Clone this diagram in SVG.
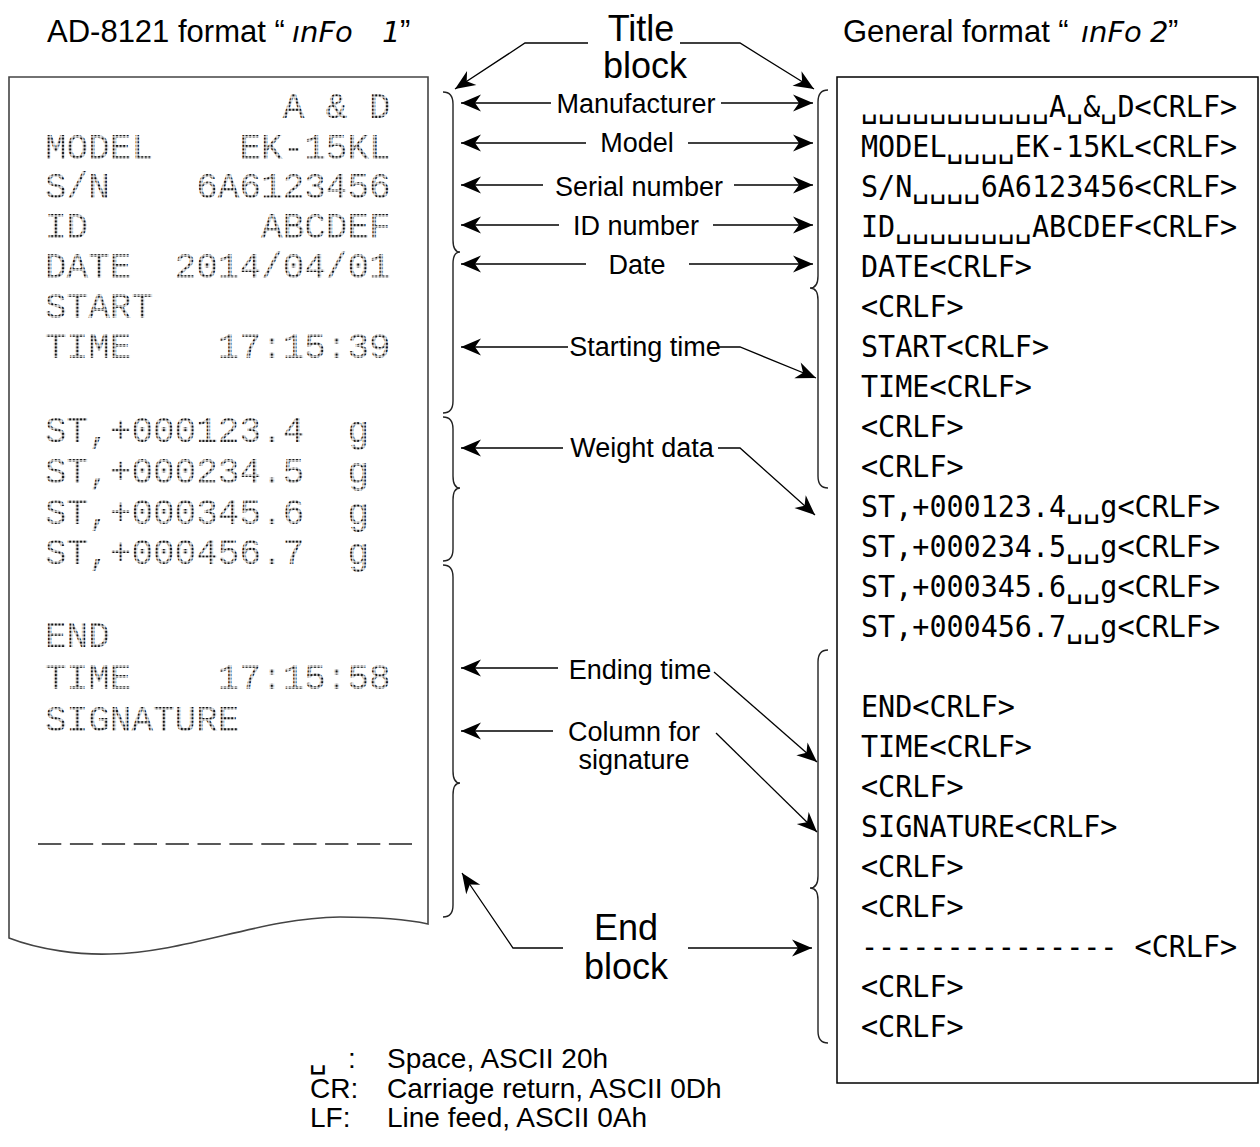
<svg xmlns="http://www.w3.org/2000/svg" width="1260" height="1147" viewBox="0 0 1260 1147">
<style>
.lbl{font-family:"Liberation Sans",Arial,sans-serif;font-size:27px;fill:#000}
.lg{font-family:"Liberation Sans",Arial,sans-serif;font-size:28px;fill:#000}
.hd{font-family:"Liberation Sans",Arial,sans-serif;font-size:31px;fill:#000}
.mid{text-anchor:middle}
.big{font-family:"Liberation Sans",Arial,sans-serif;font-size:36px;fill:#000;text-anchor:middle}
.seg{font-family:"DejaVu Sans",sans-serif;font-style:italic;font-size:29px}
.dm{font-family:"Liberation Mono",monospace;font-size:36px;fill:url(#dots);white-space:pre}
.rb{font-family:"DejaVu Sans Mono",monospace;font-size:30px;fill:#000;white-space:pre}
.ln{fill:none;stroke:#000;stroke-width:1.3}
.arr{marker-end:url(#ah)}
.br{fill:none;stroke:#222;stroke-width:1.4}
</style>
<defs>
<pattern id="dots" width="3.6" height="3.6" patternUnits="userSpaceOnUse"><rect x="0.6" y="0.6" width="2.4" height="2.4" fill="#111"/></pattern>
<marker id="ah" viewBox="-21 -10 23 20" markerWidth="23" markerHeight="20" refX="0" refY="0" orient="auto" markerUnits="userSpaceOnUse"><path d="M0,0 L-20,-8.5 L-14,0 L-20,8.5 Z" fill="#000"/></marker>
</defs>
<rect width="1260" height="1147" fill="#fff"/>

<g id="heading-left">
<text class="hd" x="47" y="42">AD-8121 format “<tspan class="seg" x="292">ınFo</tspan><tspan class="seg" x="382">1</tspan><tspan x="400">”</tspan></text>
</g>
<g id="heading-right">
<text class="hd" x="843" y="42">General format “<tspan class="seg" x="1081">ınFo</tspan><tspan class="seg" x="1150">2</tspan><tspan x="1168">”</tspan></text>
</g>

<g id="printout">
<path d="M9,77 V938 C40,950 80,955 110,954 C190,952 260,918 340,917 C380,917 410,920 428,924 V77 Z" fill="#fff" stroke="#444" stroke-width="1.6"/>
<text class="dm" x="45" y="118">           A &amp; D</text>
<text class="dm" x="45" y="159">MODEL    EK-15KL</text>
<text class="dm" x="45" y="198">S/N    6A6123456</text>
<text class="dm" x="45" y="238">ID        ABCDEF</text>
<text class="dm" x="45" y="278">DATE  2014/04/01</text>
<text class="dm" x="45" y="318">START</text>
<text class="dm" x="45" y="358">TIME    17:15:39</text>
<text class="dm" x="45" y="442">ST,+000123.4  g</text>
<text class="dm" x="45" y="483">ST,+000234.5  g</text>
<text class="dm" x="45" y="524">ST,+000345.6  g</text>
<text class="dm" x="45" y="564">ST,+000456.7  g</text>
<text class="dm" x="45" y="647">END</text>
<text class="dm" x="45" y="689">TIME    17:15:58</text>
<text class="dm" x="45" y="731">SIGNATURE</text>
<line x1="38" y1="844" x2="412" y2="844" stroke="#222" stroke-width="1.5" stroke-dasharray="23.3 8.6"/>
</g>

<g id="general-box">
<rect x="837" y="77" width="421" height="1006" fill="none" stroke="#000" stroke-width="1.5"/>
<g transform="translate(861,0) scale(0.947,1)">
<text class="rb" x="0" y="117">␣␣␣␣␣␣␣␣␣␣␣A␣&amp;␣D&lt;CRLF&gt;</text>
<text class="rb" x="0" y="157">MODEL␣␣␣␣EK-15KL&lt;CRLF&gt;</text>
<text class="rb" x="0" y="197">S/N␣␣␣␣6A6123456&lt;CRLF&gt;</text>
<text class="rb" x="0" y="237">ID␣␣␣␣␣␣␣␣ABCDEF&lt;CRLF&gt;</text>
<text class="rb" x="0" y="277">DATE&lt;CRLF&gt;</text>
<text class="rb" x="0" y="317">&lt;CRLF&gt;</text>
<text class="rb" x="0" y="357">START&lt;CRLF&gt;</text>
<text class="rb" x="0" y="397">TIME&lt;CRLF&gt;</text>
<text class="rb" x="0" y="437">&lt;CRLF&gt;</text>
<text class="rb" x="0" y="477">&lt;CRLF&gt;</text>
<text class="rb" x="0" y="517">ST,+000123.4␣␣g&lt;CRLF&gt;</text>
<text class="rb" x="0" y="557">ST,+000234.5␣␣g&lt;CRLF&gt;</text>
<text class="rb" x="0" y="597">ST,+000345.6␣␣g&lt;CRLF&gt;</text>
<text class="rb" x="0" y="637">ST,+000456.7␣␣g&lt;CRLF&gt;</text>
<text class="rb" x="0" y="717">END&lt;CRLF&gt;</text>
<text class="rb" x="0" y="757">TIME&lt;CRLF&gt;</text>
<text class="rb" x="0" y="797">&lt;CRLF&gt;</text>
<text class="rb" x="0" y="837">SIGNATURE&lt;CRLF&gt;</text>
<text class="rb" x="0" y="877">&lt;CRLF&gt;</text>
<text class="rb" x="0" y="917">&lt;CRLF&gt;</text>
<text class="rb" x="0" y="957">--------------- &lt;CRLF&gt;</text>
<text class="rb" x="0" y="997">&lt;CRLF&gt;</text>
<text class="rb" x="0" y="1037">&lt;CRLF&gt;</text>
</g>
</g>

<g id="braces">
<path class="br" d="M443,92 C450,92 453,96 453,104 V240 C453,248 456,252 460,252 C456,252 453,256 453,264 V401 C453,409 450,413 443,413"/>
<path class="br" d="M443,417 C450,417 453,421 453,429 V476 C453,484 456,488 460,488 C456,488 453,492 453,500 V549 C453,557 450,561 443,561"/>
<path class="br" d="M443,565 C450,565 453,569 453,577 V771 C453,779 456,783 460,783 C456,783 453,787 453,795 V905 C453,913 450,917 443,917"/>
<path class="br" d="M828,90 C821,90 818,94 818,102 V276 C818,284 815,288 810,288 C815,288 818,292 818,300 V476 C818,484 821,488 828,488"/>
<path class="br" d="M828,650 C821,650 818,654 818,662 V876 C818,884 815,888 810,888 C815,888 818,892 818,900 V1031 C818,1039 821,1043 828,1043"/>
</g>

<g id="connectors">
<polyline class="ln arr" points="588,43 525,43 455,89"/>
<polyline class="ln arr" points="680,43 740,43 814,89"/>
<line class="ln arr" x1="551" y1="103" x2="461" y2="103"/>
<line class="ln arr" x1="721" y1="103" x2="813" y2="103"/>
<line class="ln arr" x1="586" y1="143" x2="461" y2="143"/>
<line class="ln arr" x1="688" y1="143" x2="813" y2="143"/>
<line class="ln arr" x1="543" y1="185" x2="461" y2="185"/>
<line class="ln arr" x1="734" y1="185" x2="813" y2="185"/>
<line class="ln arr" x1="559" y1="225" x2="461" y2="225"/>
<line class="ln arr" x1="713" y1="225" x2="813" y2="225"/>
<line class="ln arr" x1="586" y1="264" x2="461" y2="264"/>
<line class="ln arr" x1="689" y1="264" x2="813" y2="264"/>
<line class="ln arr" x1="568" y1="347" x2="461" y2="347"/>
<polyline class="ln arr" points="719,347 740,347 816,378"/>
<line class="ln arr" x1="563" y1="448" x2="461" y2="448"/>
<polyline class="ln arr" points="718,448 740,448 815,515"/>
<line class="ln arr" x1="558" y1="668" x2="461" y2="668"/>
<line class="ln arr" x1="714" y1="672" x2="817" y2="762"/>
<line class="ln arr" x1="553" y1="731" x2="461" y2="731"/>
<line class="ln arr" x1="716" y1="733" x2="817" y2="832"/>
<polyline class="ln arr" points="563,948 513,948 462,873"/>
<line class="ln arr" x1="688" y1="948" x2="812" y2="948"/>
</g>

<g id="labels">
<text class="big" x="641" y="41">Title</text>
<text class="big" x="645" y="78">block</text>
<text class="lbl mid" x="636" y="113">Manufacturer</text>
<text class="lbl mid" x="637" y="152">Model</text>
<text class="lbl mid" x="639" y="196">Serial number</text>
<text class="lbl mid" x="636" y="235">ID number</text>
<text class="lbl mid" x="637" y="274">Date</text>
<text class="lbl mid" x="645" y="356">Starting time</text>
<text class="lbl mid" x="642" y="457">Weight data</text>
<text class="lbl mid" x="640" y="679">Ending time</text>
<text class="lbl mid" x="634" y="741">Column for</text>
<text class="lbl mid" x="634" y="769">signature</text>
<text class="big" x="626" y="940">End</text>
<text class="big" x="626" y="979">block</text>
</g>

<g id="legend">
<text class="lg" x="309" y="1068">␣</text><text class="lg" x="348" y="1068">:</text>
<text class="lg" x="387" y="1068">Space, ASCII 20h</text>
<text class="lg" x="310" y="1098">CR:</text>
<text class="lg" x="387" y="1098">Carriage return, ASCII 0Dh</text>
<text class="lg" x="310" y="1127">LF:</text>
<text class="lg" x="387" y="1127">Line feed, ASCII 0Ah</text>
</g>
</svg>
